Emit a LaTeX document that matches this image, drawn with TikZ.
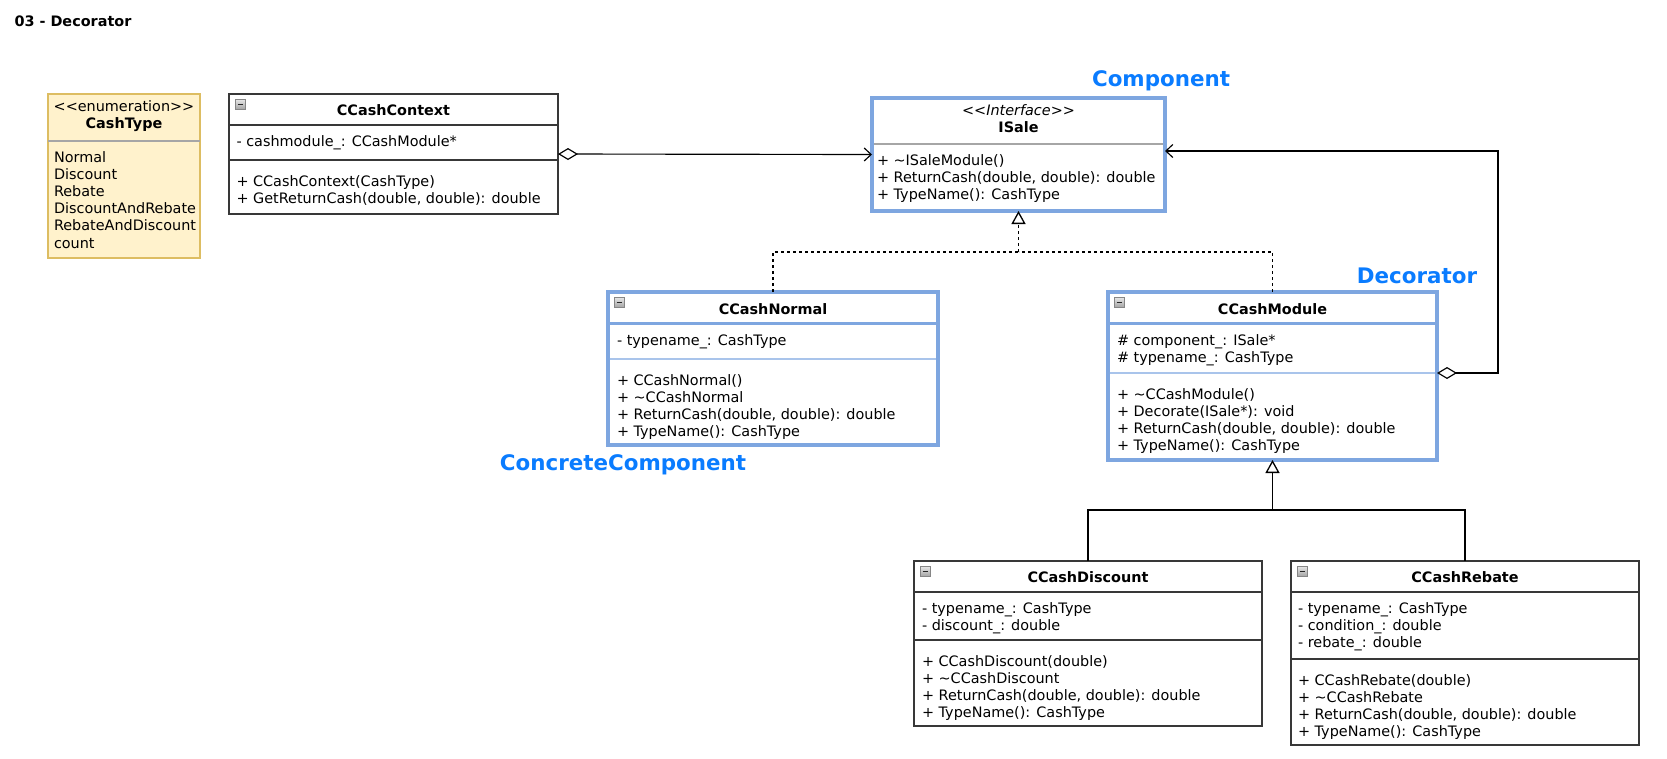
\documentclass[tikz,border=0pt]{standalone}
\usepackage{fontspec}
\setmainfont{DejaVu Sans}
\usetikzlibrary{arrows.meta}

\definecolor{umlblue}{HTML}{7EA6E0}
\definecolor{umlbluethin}{HTML}{A9C4EB}
\definecolor{enumfill}{HTML}{FFF2CC}
\definecolor{enumline}{HTML}{DDBD62}
\definecolor{boxline}{HTML}{383838}
\definecolor{sepgray}{HTML}{A6A6A6}
\definecolor{rolecol}{HTML}{0A7CFF}

\newcommand\umlfs{\fontsize{14.4}{17.3}\selectfont}
\newcommand\rolefs{\fontsize{21.4}{25}\selectfont\bfseries}
\newcommand\stereo[1]{<\kern0pt<#1>\kern0pt>}
\newcommand\umltilde{\textasciitilde}

% small "collapse" button in the top left corner of a class box
\newcommand\collapsebtn[1]{%
  \draw[draw=gray!95,line width=0.9pt,top color=gray!20,bottom color=gray!70]
    ([shift={(6.5,5.5)}]#1.north west) rectangle ++(9.5,9.5);
  \draw[line width=1.4pt,black!85] ([shift={(8.5,10.25)}]#1.north west) -- ++(5.5,0);
}

\begin{document}
\begin{tikzpicture}[x=1pt,y=-1pt,
  every node/.style={inner sep=0pt,outer sep=0pt},
  plainbox/.style={draw=boxline,line width=1.4pt,fill=white,anchor=north west,rectangle},
  bluebox/.style={draw=umlblue,line width=3.2pt,fill=white,anchor=north west,rectangle},
  enumbox/.style={draw=enumline,line width=1.5pt,fill=enumfill,anchor=north west,rectangle},
  txt/.style={anchor=base west,font=\umlfs},
  ctitle/.style={anchor=base,font=\umlfs\bfseries},
  role/.style={anchor=base,font=\rolefs,text=rolecol},
  plainsep/.style={draw=boxline,line width=1.4pt},
  bluesep/.style={draw=umlblue,line width=3pt},
  bluethin/.style={draw=umlbluethin,line width=1.2pt},
  graysep/.style={draw=sepgray,line width=1.3pt},
  conn/.style={draw=black,line width=1.15pt},
  agg/.style={conn,{Diamond[fill=white,length=20pt,width=12pt]}-{Straight Barb[length=7pt,width=13pt]}},
  real/.style={conn,line width=1.05pt,dash pattern=on 3pt off 3pt},
  gentip/.style={-{Triangle[fill=white,length=13pt,width=14pt,line width=1.3pt]}}
]
\useasboundingbox (0,0) rectangle (1667,758);
\fill[white] (0,0) rectangle (1667,758);

% heading
\node[anchor=base west,font=\umlfs\bfseries] (heading) at (14.5,26) {03 - Decorator};

% ---------- CashType enumeration ----------
\node[enumbox,minimum width=152,minimum height=164] (ct) at (48,94) {};
\node[anchor=base,font=\umlfs] (ct-st) at (124,111) {\stereo{enumeration}};
\node[ctitle] (ct-t) at (124,128) {CashType};
\draw[graysep] (ct.west |- 0,141) -- (ct.east |- 0,141);
\foreach \s [count=\i] in {Normal,Discount,Rebate,DiscountAndRebate,RebateAndDiscount,count}
  \node[txt] (ct-v\i) at (54,{162+17.2*(\i-1)}) {\s};

% ---------- CCashContext ----------
\node[plainbox,minimum width=329,minimum height=120] (cc) at (229,94) {};
\collapsebtn{cc}
\node[ctitle] (cc-t) at (393.5,115) {CCashContext};
\draw[plainsep] (cc.west |- 0,125) -- (cc.east |- 0,125);
\draw[plainsep] (cc.west |- 0,160) -- (cc.east |- 0,160);
\node[txt] (cc-a1) at (236.5,146) {- cashmodule\_: CCashModule*};
\node[txt] (cc-o1) at (236.5,186) {+ CCashContext(CashType)};
\node[txt] (cc-o2) at (236.5,203) {+ GetReturnCash(double, double): double};

% ---------- ISale interface ----------
\node[bluebox,minimum width=293,minimum height=113] (isale) at (872,98) {};
\node[anchor=base,font=\umlfs\itshape] (is-st) at (1018.5,115) {\stereo{Interface}};
\node[ctitle] (is-t) at (1018.5,132) {ISale};
\draw[graysep] ([xshift=1.6pt]isale.west |- 0,144) -- ([xshift=-1.6pt]isale.east |- 0,144);
\foreach \s [count=\i] in {{+ \umltilde ISaleModule()},{+ ReturnCash(double, double): double},{+ TypeName(): CashType}}
  \node[txt] (is-o\i) at (877,{165+17.3*(\i-1)}) {\s};
\node[role] (lbl-comp) at (1161,86.5) {Component};

% ---------- CCashNormal ----------
\node[bluebox,minimum width=330,minimum height=153] (cn) at (608,292) {};
\collapsebtn{cn}
\node[ctitle] (cn-t) at (773,314) {CCashNormal};
\draw[bluesep] (cn.west |- 0,323) -- (cn.east |- 0,323);
\draw[bluethin] ([xshift=1.6pt]cn.west |- 0,359) -- ([xshift=-1.6pt]cn.east |- 0,359);
\node[txt] (cn-a1) at (617,345) {- typename\_: CashType};
\foreach \s [count=\i] in {{+ CCashNormal()},{+ \umltilde CCashNormal},{+ ReturnCash(double, double): double},{+ TypeName(): CashType}}
  \node[txt] (cn-o\i) at (617,{385+17.3*(\i-1)}) {\s};
\node[role] (lbl-conc) at (623,470.5) {ConcreteComponent};

% ---------- CCashModule ----------
\node[bluebox,minimum width=329,minimum height=168] (cm) at (1108,292) {};
\collapsebtn{cm}
\node[ctitle] (cm-t) at (1272.5,314) {CCashModule};
\draw[bluesep] (cm.west |- 0,323) -- (cm.east |- 0,323);
\draw[bluethin] ([xshift=1.6pt]cm.west |- 0,373) -- ([xshift=-1.6pt]cm.east |- 0,373);
\node[txt] (cm-a1) at (1117,345) {\# component\_: ISale*};
\node[txt] (cm-a2) at (1117,362) {\# typename\_: CashType};
\foreach \s [count=\i] in {{+ \umltilde CCashModule()},{+ Decorate(ISale*): void},{+ ReturnCash(double, double): double},{+ TypeName(): CashType}}
  \node[txt] (cm-o\i) at (1117,{399+17.3*(\i-1)}) {\s};
\node[role] (lbl-deco) at (1417,283.5) {Decorator};

% ---------- CCashDiscount ----------
\node[plainbox,minimum width=348,minimum height=165] (cd) at (914,561) {};
\collapsebtn{cd}
\node[ctitle] (cd-t) at (1088,582) {CCashDiscount};
\draw[plainsep] (cd.west |- 0,592) -- (cd.east |- 0,592);
\draw[plainsep] (cd.west |- 0,640) -- (cd.east |- 0,640);
\node[txt] (cd-a1) at (922,613) {- typename\_: CashType};
\node[txt] (cd-a2) at (922,630) {- discount\_: double};
\foreach \s [count=\i] in {{+ CCashDiscount(double)},{+ \umltilde CCashDiscount},{+ ReturnCash(double, double): double},{+ TypeName(): CashType}}
  \node[txt] (cd-o\i) at (922,{666+17.2*(\i-1)}) {\s};

% ---------- CCashRebate ----------
\node[plainbox,minimum width=348,minimum height=184] (cr) at (1291,561) {};
\collapsebtn{cr}
\node[ctitle] (cr-t) at (1465,582) {CCashRebate};
\draw[plainsep] (cr.west |- 0,592) -- (cr.east |- 0,592);
\draw[plainsep] (cr.west |- 0,659) -- (cr.east |- 0,659);
\foreach \s [count=\i] in {{- typename\_: CashType},{- condition\_: double},{- rebate\_: double}}
  \node[txt] (cr-a\i) at (1298,{613+17.2*(\i-1)}) {\s};
\foreach \s [count=\i] in {{+ CCashRebate(double)},{+ \umltilde CCashRebate},{+ ReturnCash(double, double): double},{+ TypeName(): CashType}}
  \node[txt] (cr-o\i) at (1298,{685+17.3*(\i-1)}) {\s};

% ---------- connectors ----------
% CCashContext holds an ISale
\draw[agg] (cc.east) -- (isale.west);
% CCashModule decorates an ISale
\draw[agg] (cm.east |- 0,373) -- ++(61,0) |- (isale.east |- 0,151);
% realisations of ISale
\coordinate (rj) at (isale.south |- 0,252);
\draw[real] (cn.north) |- (rj);
\draw[real] (cm.north) |- (rj);
\draw[real,gentip] (rj) -- (isale.south);
% subclasses of CCashModule
\coordinate (gj) at (cm.south |- 0,510);
\draw[conn] (cd.north) |- (gj) -| (cr.north);
\draw[conn,gentip] (gj) -- (cm.south);
\end{tikzpicture}
\end{document}
